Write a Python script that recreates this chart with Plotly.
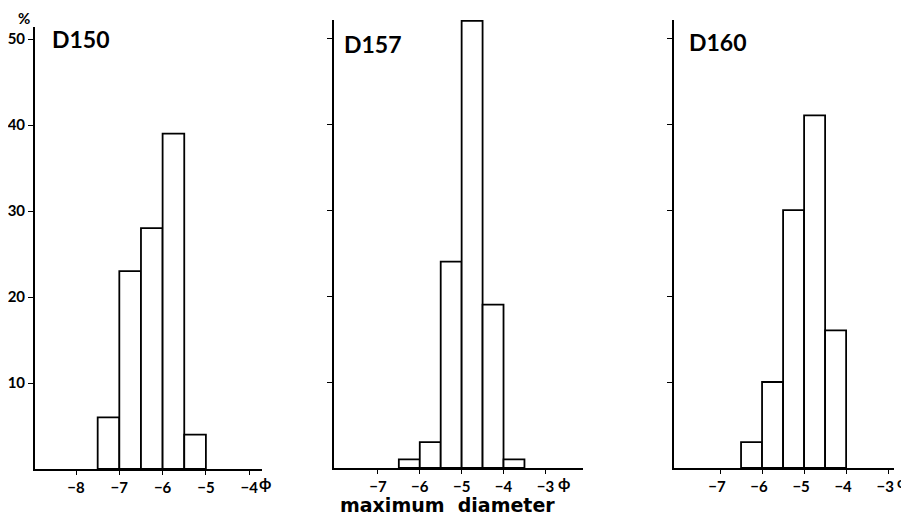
import plotly.graph_objects as go

# Data: bin left edges (phi) and percentages
d150_left = [-7.5, -7.0, -6.5, -6.0, -5.5]
d150_pct = [6, 23, 28, 39, 4]
d157_left = [-6.5, -6.0, -5.5, -5.0, -4.5, -4.0]
d157_pct = [1, 3, 24, 52, 19, 1]
d160_left = [-6.5, -6.0, -5.5, -5.0, -4.5]
d160_pct = [3, 10, 30, 41, 16]
bin_width = 0.5

panel_names = ["D150", "D157", "D160"]
x_ticks = [[-8, -7, -6, -5, -4], [-7, -6, -5, -4, -3], [-7, -6, -5, -4, -3]]
y_ticks = [10, 20, 30, 40, 50]

OFF = 8  # default page body margin
W, H = 909 - OFF, 519 - OFF
FONT = "Lato"

def px(x):
    return (x - OFF) / W

def py(y):
    return 1 - (y - OFF) / H

panels = [
    dict(left=d150_left, pct=d150_pct, xd=(32, 260), yd=(469, 27), xr=(-8.95, -3.7), yr=(0, 51.4), labels=True, shift=0),
    dict(left=d157_left, pct=d157_pct, xd=(332, 582), yd=(468, 20), xr=(-8.05, -2.1), yr=(0, 52.1), labels=False, shift=0),
    dict(left=d160_left, pct=d160_pct, xd=(673, 894), yd=(468, 20), xr=(-8.1, -2.86), yr=(0, 52.1), labels=False, shift=-3),
]

fig = go.Figure()
layout = dict(
    width=W, height=H, margin=dict(l=0, r=0, t=0, b=0),
    plot_bgcolor="white", paper_bgcolor="white", showlegend=False,
    font=dict(family=FONT, color="black"),
)

for i, p in enumerate(panels):
    n = "" if i == 0 else str(i + 1)
    centers = [l + bin_width / 2 for l in p["left"]]
    fig.add_trace(go.Bar(
        x=centers, y=p["pct"], width=bin_width,
        marker=dict(color="white", line=dict(color="black", width=1.8)),
        xaxis="x" + n, yaxis="y" + n, hoverinfo="x+y",
    ))
    layout["xaxis" + n] = dict(
        domain=[px(p["xd"][0]), px(p["xd"][1])], range=list(p["xr"]),
        anchor="y" + n, showline=True, linecolor="black", linewidth=1.8,
        showgrid=False, zeroline=False, ticks="outside", ticklen=4, tickwidth=1.3,
        tickcolor="black", tickvals=x_ticks[i], ticklabelshift=p["shift"],
        ticktext=["\u2212" + str(abs(v)) for v in x_ticks[i]],
        tickfont=dict(size=15, family=FONT, weight="bold", color="black"),
    )
    layout["yaxis" + n] = dict(
        domain=[py(p["yd"][0]), py(p["yd"][1])], range=list(p["yr"]),
        anchor="x" + n, showline=True, linecolor="black", linewidth=1.8,
        showgrid=False, zeroline=False, ticks="outside", ticklen=5, tickwidth=1.3,
        tickcolor="black", tickvals=y_ticks,
        ticktext=[str(v) for v in y_ticks] if p["labels"] else [""] * len(y_ticks),
        tickfont=dict(size=15, family=FONT, weight="bold", color="black"),
    )

annotations = [
    dict(text="D150", x=px(47), y=py(39), xanchor="left", yanchor="middle", font=dict(size=23)),
    dict(text="D157", x=px(340), y=py(44), xanchor="left", yanchor="middle", font=dict(size=23)),
    dict(text="D160", x=px(686), y=py(42), xanchor="left", yanchor="middle", font=dict(size=23)),
    dict(text="%", x=px(21), y=py(18), xanchor="center", yanchor="middle", font=dict(size=15)),
    dict(text="\u03d5", x=px(263), y=py(482), xanchor="center", yanchor="middle", font=dict(size=16)),
    dict(text="\u03d5", x=px(563), y=py(482), xanchor="center", yanchor="middle", font=dict(size=16)),
    dict(text="\u03d5", x=px(903), y=py(482), xanchor="center", yanchor="middle", font=dict(size=15)),
]
for a in annotations:
    a.update(xref="paper", yref="paper", showarrow=False)
    a["font"].update(family=FONT, color="black", weight="bold")
annotations.append(dict(
    text="maximum  diameter", x=px(446), y=py(505), xref="paper", yref="paper",
    xanchor="center", yanchor="middle", showarrow=False,
    font=dict(size=19, family="DejaVu Sans", weight="bold", color="black"),
))
layout["annotations"] = annotations

fig.update_layout(**layout)
fig.write_html("out.html")
